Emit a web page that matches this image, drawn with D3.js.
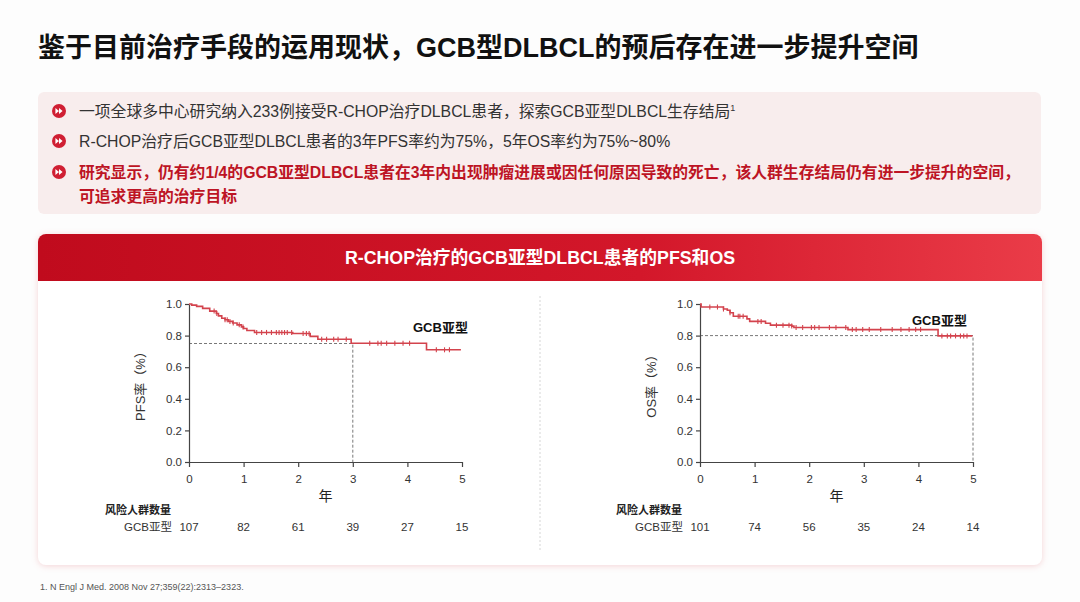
<!DOCTYPE html>
<html>
<head>
<meta charset="utf-8">
<script src="https://cdn.jsdelivr.net/npm/d3@7"></script>
<style>
  html, body { margin: 0; padding: 0; background: #fdfdfd; }
  svg { display: block; font-family: "Liberation Sans", Arial, "Noto Sans CJK SC", sans-serif; }
</style>
</head>
<body>
<svg id="chart" width="1080" height="602"></svg>
<script>
// ---- data ----
const title = "鉴于目前治疗手段的运用现状，GCB型DLBCL的预后存在进一步提升空间"
const bullets = [
  {text: "一项全球多中心研究纳入233例接受R-CHOP治疗DLBCL患者，探索GCB亚型DLBCL生存结局", sup: "1", bold: false},
  {text: "R-CHOP治疗后GCB亚型DLBCL患者的3年PFS率约为75%，5年OS率约为75%~80%", bold: false},
  {text: "研究显示，仍有约1/4的GCB亚型DLBCL患者在3年内出现肿瘤进展或因任何原因导致的死亡，该人群生存结局仍有进一步提升的空间，", bold: true},
  {text: "可追求更高的治疗目标", bold: true, cont: true}
]
const panelTitle = "R-CHOP治疗的GCB亚型DLBCL患者的PFS和OS"

const xTicks = [0, 1, 2, 3, 4, 5]
const yTicks = [0, 0.2, 0.4, 0.6, 0.8, 1.0]

// PFS steps: [time in years, survival after the drop]
const pfsSteps = [
  [0, 1.0], [0.05, 0.993], [0.14, 0.985], [0.25, 0.972], [0.38, 0.955], [0.5, 0.94],
  [0.54, 0.925], [0.6, 0.91], [0.66, 0.9], [0.72, 0.89], [0.8, 0.88], [0.88, 0.868],
  [0.96, 0.855], [1.0, 0.845], [1.06, 0.832], [1.2, 0.82], [1.9, 0.813], [2.22, 0.795],
  [2.36, 0.777], [2.97, 0.752], [4.35, 0.71]
]
const pfsEnd = 4.98
const pfsCensor = [0.46, 0.51, 0.66, 0.70, 0.75, 0.81, 0.92, 0.99, 1.24, 1.33, 1.42, 1.51,
  1.60, 1.65, 1.70, 1.75, 1.80, 1.88, 2.09, 2.15, 2.20, 2.43, 2.52, 2.65, 2.73, 2.88,
  3.31, 3.46, 3.52, 3.62, 3.77, 3.92, 4.04, 4.53, 4.68, 4.77]
const pfsRisk = [107, 82, 61, 39, 27, 15]

// OS steps
const osSteps = [
  [0, 1.0], [0.02, 0.981], [0.43, 0.968], [0.5, 0.96], [0.55, 0.945], [0.61, 0.922],
  [0.86, 0.906], [0.91, 0.89], [1.2, 0.878], [1.29, 0.866], [1.68, 0.86], [1.72, 0.851],
  [2.71, 0.838], [4.36, 0.798]
]
const osEnd = 4.99
const osCensor = [0.18, 0.32, 0.43, 0.55, 0.70, 0.73, 0.79, 1.06, 1.12, 1.40, 1.52, 1.63,
  1.68, 1.76, 1.88, 2.04, 2.10, 2.18, 2.37, 2.49, 2.67, 2.79, 2.86, 2.98, 3.10, 3.31,
  3.52, 3.68, 3.83, 3.95, 4.04, 4.43, 4.53, 4.59, 4.68, 4.77, 4.83, 4.89]
const osRisk = [101, 74, 56, 35, 24, 14]

const red = "#bd1424"
const curveRed = "#d3434d"

const svg = d3.select("#chart")
const defs = svg.append("defs")

// header gradient
const grad = defs.append("linearGradient").attr("id", "hdr")
grad.append("stop").attr("offset", "0%").attr("stop-color", "#c00b1d")
grad.append("stop").attr("offset", "60%").attr("stop-color", "#d3172a")
grad.append("stop").attr("offset", "100%").attr("stop-color", "#ea3c48")

const shadow = defs.append("filter").attr("id", "shadow")
    .attr("x", "-5%").attr("y", "-5%").attr("width", "110%").attr("height", "115%")
shadow.append("feDropShadow")
    .attr("dx", 0).attr("dy", 1).attr("stdDeviation", 3)
    .attr("flood-color", "#e9a0a6").attr("flood-opacity", 0.45)

// ---- title ----
svg.append("text")
    .attr("x", 38).attr("y", 57)
    .attr("font-size", 27).attr("font-weight", "bold").attr("fill", "#111")
    .attr("font-family", "\"Liberation Sans\", \"Noto Sans CJK SC\", sans-serif")
    .text(title)

// ---- bullet box ----
svg.append("rect")
    .attr("x", 38).attr("y", 92).attr("width", 1003).attr("height", 122)
    .attr("rx", 6).attr("fill", "#f8eded")

const bulletY = [117, 147, 178, 202]
const bullet = svg.append("g").selectAll("g").data(bullets).join("g")
    .attr("transform", (d, i) => `translate(0,${bulletY[i]})`)

bullet.filter(d => !d.cont).each(function() {
  const g = d3.select(this).append("g").attr("transform", "translate(59,-6)")
  g.append("circle").attr("r", 7).attr("fill", "#d01f33")
  g.append("path").attr("d", "M-3.6,-3 L0,0 L-3.6,3 Z M0,-3 L3.6,0 L0,3 Z").attr("fill", "#fff")
})

const btext = bullet.append("text")
    .attr("x", 79)
    .attr("font-size", 15.8)
    .attr("font-weight", d => d.bold ? "bold" : "normal")
    .attr("fill", d => d.bold ? red : "#333")
btext.append("tspan").text(d => d.text)
btext.filter(d => d.sup).append("tspan")
    .attr("dy", -6).attr("font-size", 9).text(d => d.sup)

// ---- chart card ----
const card = {x: 38, y: 234, w: 1004, h: 331}
svg.append("rect")
    .attr("x", card.x).attr("y", card.y).attr("width", card.w).attr("height", card.h)
    .attr("rx", 8).attr("fill", "#fff").attr("filter", "url(#shadow)")

defs.append("clipPath").attr("id", "hdrclip").append("rect")
    .attr("x", card.x).attr("y", card.y).attr("width", card.w).attr("height", card.h)
    .attr("rx", 8)
svg.append("rect")
    .attr("clip-path", "url(#hdrclip)")
    .attr("x", card.x).attr("y", card.y).attr("width", card.w).attr("height", 47)
    .attr("fill", "url(#hdr)")
svg.append("text")
    .attr("x", card.x + card.w / 2).attr("y", 264)
    .attr("text-anchor", "middle")
    .attr("font-size", 17.8).attr("font-weight", "bold").attr("fill", "#fff")
    .text(panelTitle)

svg.append("line")
    .attr("x1", 540).attr("x2", 540).attr("y1", 296).attr("y2", 552)
    .attr("stroke", "#d6d6d6").attr("stroke-dasharray", "2,2")

// ---- KM panels ----
function survivalAt(steps, t) {
  const i = d3.bisector(d => d[0]).right(steps, t) - 1
  return steps[Math.max(0, i)][1]
}

function drawPanel(opt) {
  const x = d3.scaleLinear().domain([0, 5]).range([opt.left, opt.left + 273])
  const y = d3.scaleLinear().domain([0, 1]).range([462, 304])
  const g = svg.append("g")

  // reference lines
  g.append("path")
      .attr("d", `M${x(0)},${y(opt.ref[1])}H${x(opt.ref[0])}V${y(0)}`)
      .attr("fill", "none").attr("stroke", "#555").attr("stroke-width", 0.8)
      .attr("stroke-dasharray", "3,2")

  const yAxis = g.append("g")
      .attr("transform", `translate(${x(0)},0)`)
      .call(d3.axisLeft(y).tickValues(yTicks).tickFormat(d3.format(".1f")).tickSize(4).tickSizeOuter(0))
  const xAxis = g.append("g")
      .attr("transform", `translate(0,${y(0)})`)
      .call(d3.axisBottom(x).tickValues(xTicks).tickFormat(d3.format("d")).tickSize(5).tickSizeOuter(0))
  ;[yAxis, xAxis].forEach(a => {
    a.select(".domain").attr("stroke", "#444").attr("stroke-width", 1.2)
    a.selectAll(".tick line").attr("stroke", "#444").attr("stroke-width", 1.2)
    a.selectAll(".tick text").attr("font-size", 11.5).attr("fill", "#333")
        .attr("font-family", "\"Liberation Sans\", Arial, sans-serif")
  })
  xAxis.selectAll(".tick text").attr("dy", "1.15em")

  // curve
  const pts = opt.steps.concat([[opt.end, opt.steps[opt.steps.length - 1][1]]])
  const line = d3.line().x(d => x(d[0])).y(d => y(d[1])).curve(d3.curveStepAfter)
  g.append("path").datum(pts)
      .attr("d", line)
      .attr("fill", "none").attr("stroke", curveRed).attr("stroke-width", 1.6)

  g.append("g").selectAll("line").data(opt.censor).join("line")
      .attr("x1", d => x(d)).attr("x2", d => x(d))
      .attr("y1", d => y(survivalAt(opt.steps, d)) - 2.5)
      .attr("y2", d => y(survivalAt(opt.steps, d)) + 2.5)
      .attr("stroke", curveRed).attr("stroke-width", 1.1)

  g.append("text")
      .attr("x", opt.labelPos[0]).attr("y", opt.labelPos[1])
      .attr("font-size", 13).attr("font-weight", "bold").attr("fill", "#111")
      .text("GCB亚型")

  g.append("text")
      .attr("transform", `translate(${opt.left - 49},${y(0.5)}) rotate(-90)`)
      .attr("text-anchor", "middle").attr("dy", "0.35em")
      .attr("font-size", 13).attr("fill", "#333")
      .text(opt.yLabel)

  g.append("text")
      .attr("x", x(2.5)).attr("y", 501)
      .attr("text-anchor", "middle")
      .attr("font-size", 14).attr("fill", "#222")
      .text("年")

  g.append("text")
      .attr("x", opt.left - 84).attr("y", 514)
      .attr("font-size", 11).attr("font-weight", "bold").attr("fill", "#222")
      .text("风险人群数量")
  g.append("text")
      .attr("x", opt.left - 17).attr("y", 531)
      .attr("text-anchor", "end")
      .attr("font-size", 11.5).attr("fill", "#333")
      .text("GCB亚型")
  g.append("g").selectAll("text").data(opt.risk).join("text")
      .attr("x", (d, i) => x(xTicks[i])).attr("y", 531)
      .attr("text-anchor", "middle")
      .attr("font-size", 11.5).attr("fill", "#333")
      .text(d => d)
}

drawPanel({left: 189, steps: pfsSteps, end: pfsEnd, censor: pfsCensor, risk: pfsRisk,
  ref: [3, 0.75], yLabel: "PFS率（%）", labelPos: [413, 332]})
drawPanel({left: 700, steps: osSteps, end: osEnd, censor: osCensor, risk: osRisk,
  ref: [5, 0.8], yLabel: "OS率（%）", labelPos: [912, 325]})

// ---- footnote ----
svg.append("text")
    .attr("x", 40).attr("y", 590)
    .attr("font-size", 9).attr("fill", "#555")
    .text("1.  N Engl J Med. 2008 Nov 27;359(22):2313–2323.")
</script>
</body>
</html>
